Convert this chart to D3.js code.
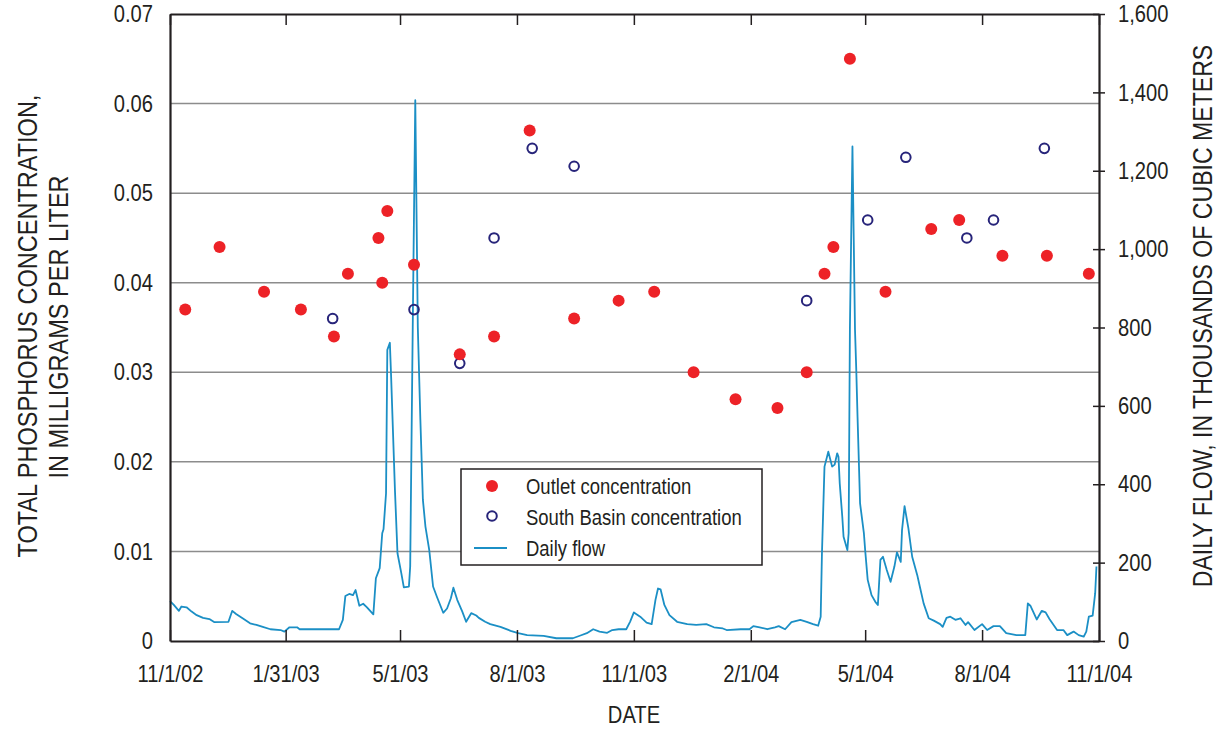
<!DOCTYPE html>
<html>
<head>
    <meta charset="UTF-8">
    <title>Total phosphorus and daily flow</title>
    <script src="https://cdnjs.cloudflare.com/ajax/libs/d3/7.8.5/d3.min.js" charset="utf-8"></script>
    <style>
        body { margin: 0; background: #fff; }
        svg text { font-family: "Liberation Sans", Arial, sans-serif; fill: #231f20; }
    </style>
</head>
<body>

<svg id="chart" width="1222" height="729"></svg>

<script type="text/javascript">

// sample dates and concentrations (mg/L)
var outletDates = ["2002-11-13", "2002-12-10", "2003-01-14", "2003-02-12", "2003-03-10", "2003-03-21",
    "2003-04-14", "2003-04-17", "2003-04-21", "2003-05-12", "2003-06-17", "2003-07-14", "2003-08-11",
    "2003-09-15", "2003-10-20", "2003-11-17", "2003-12-18", "2004-01-20", "2004-02-22", "2004-03-16",
    "2004-03-30", "2004-04-06", "2004-04-19", "2004-05-17", "2004-06-22", "2004-07-14", "2004-08-17",
    "2004-09-21", "2004-10-24"];
var outletValues = [0.037, 0.044, 0.039, 0.037, 0.034, 0.041,
    0.045, 0.040, 0.048, 0.042, 0.032, 0.034, 0.057,
    0.036, 0.038, 0.039, 0.030, 0.027, 0.026, 0.030,
    0.041, 0.044, 0.065, 0.039, 0.046, 0.047, 0.043,
    0.043, 0.041];

var southDates = ["2003-03-09", "2003-05-12", "2003-06-17", "2003-07-14", "2003-08-13", "2003-09-15",
    "2004-03-16", "2004-05-03", "2004-06-02", "2004-07-20", "2004-08-10", "2004-09-19"];
var southValues = [0.036, 0.037, 0.031, 0.045, 0.055, 0.053,
    0.038, 0.047, 0.054, 0.045, 0.047, 0.055];

// daily flow, thousands of m3; day number counted from 11/1/02
var flowStart = "2002-11-01";
var flowDays = [0, 3, 7, 9, 13, 17, 21, 26, 31, 35, 46, 49, 52, 58, 63, 68, 73, 79, 87, 90,
    94, 100, 102, 133, 136, 138, 141, 144, 146, 149, 152, 155, 160, 162, 165, 167, 168, 170, 171, 173,
    174, 177, 179, 182, 184, 188, 189, 191, 193, 195, 197, 199, 201, 204, 207, 210, 215, 218, 221, 223,
    226, 230, 233, 237, 241, 243, 248, 252, 260, 268, 274, 281, 294, 304, 317, 323, 328, 333, 338, 344,
    348, 353, 359, 362, 365, 370, 375, 379, 382, 384, 386, 389, 393, 399, 407, 414, 422, 428, 435, 438,
    449, 456, 459, 464, 470, 476, 479, 484, 489, 496, 501, 506, 510, 512, 513, 515, 518, 521, 523, 525,
    526, 527, 529, 530, 533, 534, 535, 537, 539, 540, 541, 543, 546, 547, 549, 551, 552, 555, 557, 559,
    561, 564, 567, 570, 572, 575, 576, 578, 581, 584, 588, 590, 593, 597, 601, 606, 608, 611, 614, 618,
    622, 626, 628, 633, 639, 643, 648, 653, 658, 666, 673, 675, 677, 682, 686, 689, 692, 698, 703, 706,
    711, 715, 719, 721, 723, 726, 728, 729];
var flowValues = [102, 92, 77, 88, 86, 75, 66, 59, 56, 48, 49, 77, 69, 56, 45, 41, 36, 30, 28, 24,
    35, 35, 30, 30, 54, 115, 120, 117, 130, 90, 95, 86, 68, 160, 186, 275, 285, 377, 743, 761,
    674, 385, 224, 173, 137, 139, 190, 800, 1380, 800, 565, 360, 292, 232, 139, 113, 72, 83, 109, 136,
    105, 75, 49, 71, 65, 59, 49, 43, 36, 26, 20, 15, 13, 7, 7, 14, 20, 30, 24, 21,
    28, 30, 30, 49, 73, 62, 47, 43, 105, 134, 132, 92, 66, 49, 43, 41, 43, 35, 32, 28,
    30, 30, 38, 35, 30, 35, 38, 30, 48, 54, 49, 43, 39, 62, 224, 445, 483, 445, 450, 479,
    470, 402, 317, 266, 232, 275, 800, 1262, 794, 692, 572, 351, 275, 232, 156, 130, 117, 100, 92, 207,
    215, 181, 151, 190, 226, 202, 283, 344, 288, 215, 168, 139, 96, 58, 52, 43, 36, 59, 62, 54,
    58, 41, 48, 28, 43, 28, 38, 38, 20, 15, 15, 96, 90, 55, 77, 73, 56, 28, 28, 15,
    24, 15, 11, 24, 62, 65, 122, 190];

// axis ticks
var dateTicks = ["2002-11-01", "2003-01-31", "2003-05-01", "2003-08-01", "2003-11-01",
    "2004-02-01", "2004-05-01", "2004-08-01", "2004-11-01"];
var concTicks = [0, 0.01, 0.02, 0.03, 0.04, 0.05, 0.06, 0.07];
var flowTicks = [0, 200, 400, 600, 800, 1000, 1200, 1400, 1600];

var colors = {
    outlet: "#ed2227",
    south: "#27247a",
    flow: "#1b8fc5",
    grid: "#8c8c8c",
    axis: "#231f20"
};

var plot = { left: 170, right: 1099, top: 14, bottom: 641 };

// the original uses a condensed face; squeeze the regular one to match
var NARROW = 0.84;
function condense(sel) {
    sel.each(function() {
        var w = this.getComputedTextLength();
        if (w > 0) {
            d3.select(this).attr("textLength", w * NARROW).attr("lengthAdjust", "spacingAndGlyphs");
        }
    });
}

var parseDate = d3.timeParse("%Y-%m-%d");
var fmtDate = d3.timeFormat("%-m/%-d/%y");

var svg = d3.select("#chart");

var x = d3.scaleTime()
    .domain([parseDate(dateTicks[0]), parseDate(dateTicks[dateTicks.length - 1])])
    .range([plot.left, plot.right]);
var yConc = d3.scaleLinear().domain([0, 0.07]).range([plot.bottom, plot.top]);
var yFlow = d3.scaleLinear().domain([0, 1600]).range([plot.bottom, plot.top]);

var outlet = outletDates.map(function(d, i) { return { date: parseDate(d), value: outletValues[i] }; });
var south = southDates.map(function(d, i) { return { date: parseDate(d), value: southValues[i] }; });
var start = parseDate(flowStart);
var flow = flowDays.map(function(d, i) { return { date: d3.timeDay.offset(start, d), value: flowValues[i] }; });

// horizontal grid lines at the concentration ticks
svg.append("g")
    .selectAll("line")
    .data(concTicks.slice(1, -1))
    .join("line")
    .attr("x1", plot.left).attr("x2", plot.right)
    .attr("y1", function(d) { return yConc(d); })
    .attr("y2", function(d) { return yConc(d); })
    .attr("stroke", colors.grid)
    .attr("stroke-width", 1.5);

// daily flow line
svg.append("path")
    .datum(flow)
    .attr("fill", "none")
    .attr("stroke", colors.flow)
    .attr("stroke-width", 1.8)
    .attr("stroke-linejoin", "round")
    .attr("d", d3.line()
        .x(function(d) { return x(d.date); })
        .y(function(d) { return yFlow(d.value); }));

// south basin samples (open circles)
svg.append("g")
    .selectAll("circle")
    .data(south)
    .join("circle")
    .attr("cx", function(d) { return x(d.date); })
    .attr("cy", function(d) { return yConc(d.value); })
    .attr("r", 4.8)
    .attr("fill", "none")
    .attr("stroke", colors.south)
    .attr("stroke-width", 2);

// outlet samples (filled)
svg.append("g")
    .selectAll("circle")
    .data(outlet)
    .join("circle")
    .attr("cx", function(d) { return x(d.date); })
    .attr("cy", function(d) { return yConc(d.value); })
    .attr("r", 6)
    .attr("fill", colors.outlet);

// x axis: ticks inside on top and bottom frame lines
var tickDates = dateTicks.map(parseDate);

var xBottom = svg.append("g")
    .attr("transform", "translate(0," + plot.bottom + ")")
    .call(d3.axisBottom(x).tickValues(tickDates).tickFormat(fmtDate).tickSizeInner(-11).tickSizeOuter(0).tickPadding(24));
var xTop = svg.append("g")
    .attr("transform", "translate(0," + plot.top + ")")
    .call(d3.axisTop(x).tickValues(tickDates).tickFormat("").tickSizeInner(-11).tickSizeOuter(0));

// left axis: labels only
var yLeft = svg.append("g")
    .attr("transform", "translate(" + plot.left + ",0)")
    .call(d3.axisLeft(yConc).tickValues(concTicks).tickSize(0).tickPadding(17)
        .tickFormat(function(d) { return d === 0 ? "0" : d3.format(".2f")(d); }));

// right axis: ticks cross the line
var yRight = svg.append("g")
    .attr("transform", "translate(" + plot.right + ",0)")
    .call(d3.axisRight(yFlow).tickValues(flowTicks).tickSizeInner(6).tickSizeOuter(0).tickPadding(13)
        .tickFormat(d3.format(",")));
yRight.selectAll(".tick line").attr("x1", -6);

[xBottom, xTop, yLeft, yRight].forEach(function(g) {
    g.select(".domain").attr("stroke", colors.axis).attr("stroke-width", 2.2);
    g.selectAll(".tick line").attr("stroke", colors.axis).attr("stroke-width", 1.5);
    g.selectAll(".tick text").attr("font-size", 24).attr("fill", colors.axis)
        .attr("font-family", null)
        .call(condense);
});

// axis titles (rotated ones squeezed with a scale so their boxes stay true)
function vTitle(cx, cy, size, label) {
    svg.append("text")
        .attr("transform", "translate(" + cx + "," + cy + ") rotate(-90) scale(" + NARROW + ",1)")
        .attr("text-anchor", "middle")
        .attr("font-size", size)
        .text(label);
}
vTitle(37, 326, 28, "TOTAL PHOSPHORUS CONCENTRATION,");
vTitle(68, 327, 28, "IN MILLIGRAMS PER LITER");
vTitle(1212, 316, 27.5, "DAILY FLOW, IN THOUSANDS OF CUBIC METERS");

svg.append("text")
    .attr("x", 634).attr("y", 723)
    .attr("text-anchor", "middle")
    .attr("font-size", 24)
    .text("DATE")
    .call(condense);

// legend
var legend = svg.append("g").attr("transform", "translate(461,469)");
legend.append("rect")
    .attr("width", 301).attr("height", 96)
    .attr("fill", "#fff")
    .attr("stroke", colors.axis)
    .attr("stroke-width", 1.5);
legend.append("circle").attr("cx", 31).attr("cy", 17).attr("r", 6).attr("fill", colors.outlet);
legend.append("circle").attr("cx", 31).attr("cy", 47).attr("r", 4.8)
    .attr("fill", "none").attr("stroke", colors.south).attr("stroke-width", 2);
legend.append("line").attr("x1", 13).attr("x2", 46).attr("y1", 79).attr("y2", 79)
    .attr("stroke", colors.flow).attr("stroke-width", 1.8);
var legendLabels = ["Outlet concentration", "South Basin concentration", "Daily flow"];
legend.selectAll("text.lbl")
    .data(legendLabels)
    .join("text")
    .attr("class", "lbl")
    .attr("x", 65)
    .attr("y", function(d, i) { return 25 + i * 31; })
    .attr("font-size", 22)
    .text(function(d) { return d; })
    .call(condense);

</script>
</body>
</html>
